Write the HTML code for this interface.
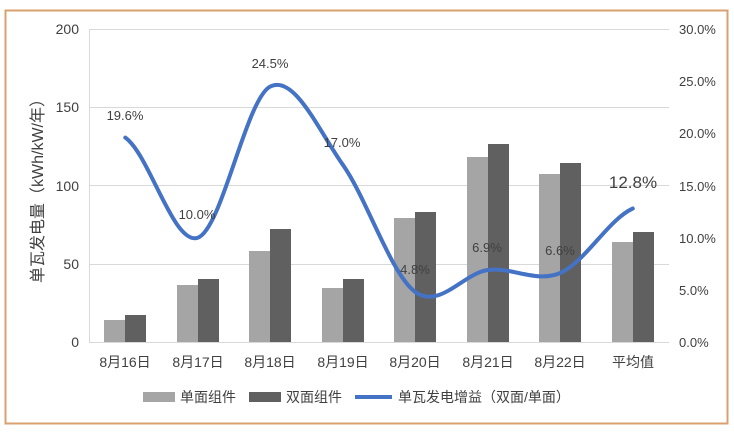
<!DOCTYPE html>
<html><head><meta charset="utf-8"><style>
body{margin:0;background:#fff}
svg text{font-family:"Liberation Sans","Noto Sans CJK SC",sans-serif;fill:#404040}
</style></head><body>
<svg width="734" height="433" xmlns="http://www.w3.org/2000/svg">
<rect x="0" y="0" width="734" height="433" fill="#fff"/>
<rect x="5.5" y="10.5" width="722" height="413" fill="#fff" stroke="#d9a070" stroke-width="2"/>
<g stroke="#d9d9d9" stroke-width="1">
<line x1="89" y1="29.5" x2="669" y2="29.5"/>
<line x1="89" y1="107.5" x2="669" y2="107.5"/>
<line x1="89" y1="185.5" x2="669" y2="185.5"/>
<line x1="89" y1="264.5" x2="669" y2="264.5"/>
<line x1="89" y1="342.5" x2="669" y2="342.5"/>
<line x1="89.5" y1="29" x2="89.5" y2="342"/>
</g>
<g fill="#a5a5a5">
<rect x="104" y="320" width="21" height="22"/>
<rect x="177" y="285" width="21" height="57"/>
<rect x="249" y="251" width="21" height="91"/>
<rect x="322" y="288" width="21" height="54"/>
<rect x="394" y="218" width="21" height="124"/>
<rect x="467" y="157" width="21" height="185"/>
<rect x="539" y="174" width="21" height="168"/>
<rect x="612" y="242" width="21" height="100"/>
</g>
<g fill="#616061">
<rect x="125" y="315" width="21" height="27"/>
<rect x="198" y="279" width="21" height="63"/>
<rect x="270" y="229" width="21" height="113"/>
<rect x="343" y="279" width="21" height="63"/>
<rect x="415" y="212" width="21" height="130"/>
<rect x="488" y="144" width="21" height="198"/>
<rect x="560" y="163" width="21" height="179"/>
<rect x="633" y="232" width="21" height="110"/>
</g>
<path d="M125.3,137.6 C149.5,154.3 173.6,246.2 197.8,237.7 C222,229.2 246.1,98.7 270.3,86.5 C294.5,74.3 318.6,130.45 342.8,164.7 C367,198.95 391.1,274.45 415.3,292 C439.5,309.55 463.6,273.2 487.8,270 C512,266.8 536.1,283.25 560.3,273 C584.5,262.75 608.6,219.25 632.8,208.5" fill="none" stroke="#4472c4" stroke-width="4" stroke-linecap="round"/>
<g font-size="13" text-anchor="middle">
<text x="125" y="120">19.6%</text>
<text x="197" y="219">10.0%</text>
<text x="270" y="68">24.5%</text>
<text x="342" y="147">17.0%</text>
<text x="415" y="274">4.8%</text>
<text x="487" y="252">6.9%</text>
<text x="560" y="255">6.6%</text>
<text x="633" y="188" font-size="17">12.8%</text>
</g>
<g font-size="14" text-anchor="end">
<text x="79" y="34">200</text>
<text x="79" y="112">150</text>
<text x="79" y="191">100</text>
<text x="79" y="269">50</text>
<text x="79" y="347">0</text>
</g>
<g font-size="13" text-anchor="start">
<text x="679" y="34">30.0%</text>
<text x="679" y="86">25.0%</text>
<text x="679" y="138">20.0%</text>
<text x="679" y="191">15.0%</text>
<text x="679" y="243">10.0%</text>
<text x="679" y="295">5.0%</text>
<text x="679" y="347">0.0%</text>
</g>
<g font-size="14" text-anchor="middle">
<text x="125" y="367">8月16日</text>
<text x="198" y="367">8月17日</text>
<text x="270" y="367">8月18日</text>
<text x="343" y="367">8月19日</text>
<text x="415" y="367">8月20日</text>
<text x="488" y="367">8月21日</text>
<text x="560" y="367">8月22日</text>
<text x="633" y="367">平均值</text>
</g>
<text transform="translate(43,187) rotate(-90)" font-size="16" text-anchor="middle">单瓦发电量（kWh/kW/年）</text>
<rect x="143" y="392" width="32" height="10" fill="#a5a5a5"/>
<text x="180" y="402" font-size="14">单面组件</text>
<rect x="249" y="392" width="32" height="10" fill="#616061"/>
<text x="286" y="402" font-size="14">双面组件</text>
<line x1="355" y1="397" x2="392" y2="397" stroke="#4472c4" stroke-width="4"/>
<text x="398" y="402" font-size="14">单瓦发电增益（双面/单面）</text>
</svg>
</body></html>
